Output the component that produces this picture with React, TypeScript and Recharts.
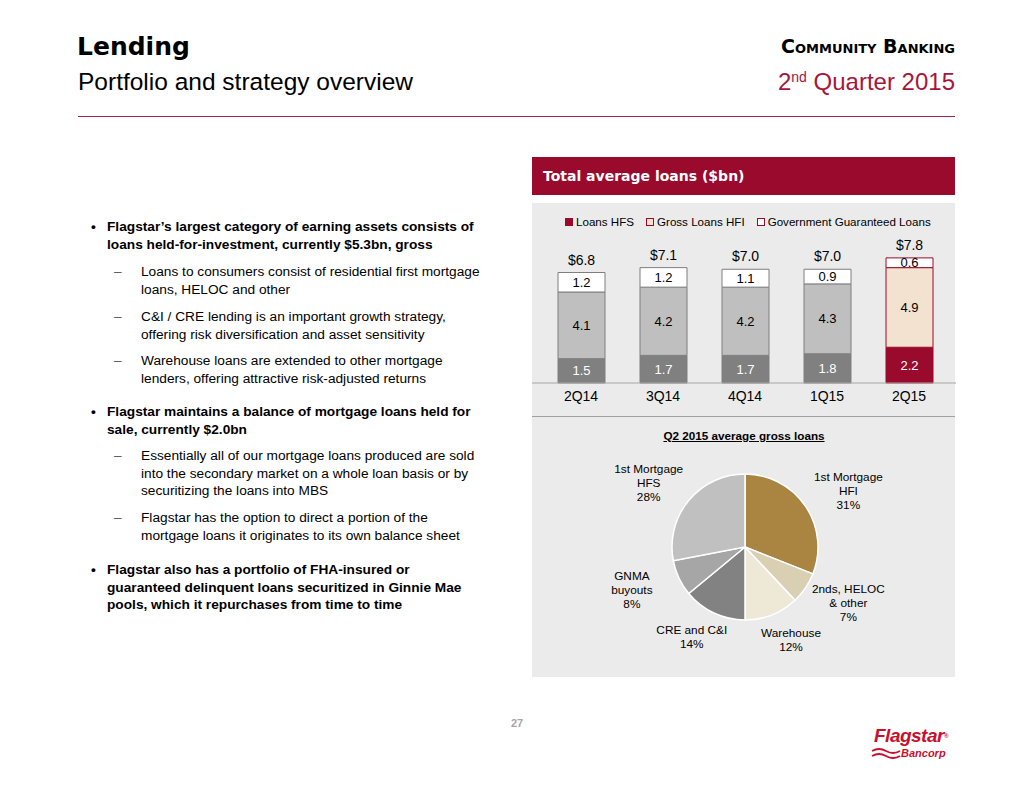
import React from "react";
import { BarChart, Bar, XAxis, YAxis, Cell, LabelList, PieChart, Pie } from "recharts";

const quarters = ["2Q14", "3Q14", "4Q14", "1Q15", "2Q15"];
const loansHfs = [1.5, 1.7, 1.7, 1.8, 2.2];
const grossLoansHfi = [4.1, 4.2, 4.2, 4.3, 4.9];
const govGuaranteed = [1.2, 1.2, 1.1, 0.9, 0.6];
const totals = [6.8, 7.1, 7.0, 7.0, 7.8];

const mixNames = [
  "1st Mortgage\nHFI",
  "2nds, HELOC\n& other",
  "Warehouse",
  "CRE and C&I",
  "GNMA\nbuyouts",
  "1st Mortgage\nHFS",
];
const mixShares = [31, 7, 12, 14, 8, 28];

const RED = "#990a2c";
const FONT = "'Liberation Sans', Arial, sans-serif";
const HEAVY = "'DejaVu Sans', sans-serif";

const barRows = quarters.map((q, i) => ({
  quarter: q,
  hfs: loansHfs[i],
  hfi: grossLoansHfi[i],
  gov: govGuaranteed[i],
  total: totals[i],
}));

const pieRows = mixNames.map((name, i) => ({ name, value: mixShares[i] }));
const pieColors = ["#aa8441", "#d9cfb2", "#eee8d7", "#828282", "#a6a6a6", "#c0c0c0"];

// last quarter is highlighted in red, the rest in greys
const hfsFill = (i: number) => (i === 4 ? RED : "#808080");
const hfiFill = (i: number) => (i === 4 ? "#f3e2cf" : "#bfbfbf");
const edge = (i: number) => (i === 4 ? RED : "#7f7f7f");

const RAD = Math.PI / 180;

const renderPieLabel = (props: any) => {
  const { cx, cy, midAngle, index } = props;
  const x = cx + 125 * Math.cos(-midAngle * RAD);
  const y = cy + 100 * Math.sin(-midAngle * RAD);
  const lines = [...mixNames[index].split("\n"), `${mixShares[index]}%`];
  const startY = y - ((lines.length - 1) * 14) / 2;
  return (
    <text
      x={x}
      y={startY}
      textAnchor='middle'
      dominantBaseline='central'
      fontSize={11.8}
      fontFamily={FONT}
      fill='#000'
    >
      {lines.map((l, k) => (
        <tspan key={k} x={x} y={startY + k * 14}>
          {l}
        </tspan>
      ))}
    </text>
  );
};

const Square = ({ fill }: { fill: string }) => (
  <span
    style={{
      display: "inline-block",
      width: 6,
      height: 6,
      background: fill,
      border: `1px solid ${RED}`,
      marginRight: 3,
    }}
  />
);

const para = (top: number, left: number, bold: boolean): React.CSSProperties => ({
  position: "absolute",
  top,
  left,
  fontFamily: FONT,
  fontSize: 13.7,
  lineHeight: "17.5px",
  fontWeight: bold ? "bold" : "normal",
  color: "#000",
  whiteSpace: "nowrap",
});

const Bullet = ({ top, lines }: { top: number; lines: string[] }) => (
  <>
    <div style={para(top, 91, true)}>•</div>
    <div style={para(top, 107, true)}>
      {lines.map((l, k) => (
        <div key={k}>{l}</div>
      ))}
    </div>
  </>
);

const Sub = ({ top, lines }: { top: number; lines: string[] }) => (
  <>
    <div style={{ ...para(top, 114, false), color: "#555" }}>–</div>
    <div style={para(top, 141, false)}>
      {lines.map((l, k) => (
        <div key={k}>{l}</div>
      ))}
    </div>
  </>
);

export default function App() {
  return (
    <div
      style={{
        position: "absolute",
        left: 0,
        top: 0,
        width: 1034,
        height: 799,
        background: "#fff",
        overflow: "hidden",
      }}
    >
      {/* header */}
      <div
        style={{
          position: "absolute",
          left: 77,
          top: 32,
          fontFamily: HEAVY,
          fontWeight: 900,
          fontSize: 25,
          lineHeight: "30px",
          color: "#000",
        }}
      >
        Lending
      </div>
      <div
        style={{
          position: "absolute",
          left: 78,
          top: 68,
          fontFamily: FONT,
          fontSize: 24.5,
          lineHeight: "28px",
          color: "#000",
        }}
      >
        Portfolio and strategy overview
      </div>
      <div
        style={{
          position: "absolute",
          right: 1034 - 955,
          top: 35,
          fontFamily: HEAVY,
          fontWeight: 900,
          fontSize: 19,
          lineHeight: "22px",
          fontVariant: "small-caps",
          color: "#000",
        }}
      >
        Community Banking
      </div>
      <div
        style={{
          position: "absolute",
          right: 1034 - 955,
          top: 68,
          fontFamily: FONT,
          fontSize: 24,
          lineHeight: "28px",
          color: "#a6163b",
        }}
      >
        2<sup style={{ fontSize: 14, verticalAlign: "top", lineHeight: "18px" }}>nd</sup> Quarter 2015
      </div>
      <div
        style={{ position: "absolute", left: 78, top: 116, width: 877, height: 1, background: "#a3223f" }}
      />

      {/* left text */}
      <Bullet
        top={218}
        lines={[
          "Flagstar’s largest category of earning assets consists of",
          "loans held-for-investment, currently $5.3bn, gross",
        ]}
      />
      <Sub
        top={263}
        lines={[
          "Loans to consumers consist of residential first mortgage",
          "loans, HELOC and other",
        ]}
      />
      <Sub
        top={308}
        lines={[
          "C&I / CRE lending is an important growth strategy,",
          "offering risk diversification and asset sensitivity",
        ]}
      />
      <Sub
        top={352}
        lines={[
          "Warehouse loans are extended to other mortgage",
          "lenders, offering attractive risk-adjusted returns",
        ]}
      />
      <Bullet
        top={403}
        lines={[
          "Flagstar maintains a balance of mortgage loans held for",
          "sale, currently $2.0bn",
        ]}
      />
      <Sub
        top={447}
        lines={[
          "Essentially all of our mortgage loans produced are sold",
          "into the secondary market on a whole loan basis or by",
          "securitizing the loans into MBS",
        ]}
      />
      <Sub
        top={509}
        lines={[
          "Flagstar has the option to direct a portion of the",
          "mortgage loans it originates to its own balance sheet",
        ]}
      />
      <Bullet
        top={561}
        lines={[
          "Flagstar also has a portfolio of FHA-insured or",
          "guaranteed delinquent loans securitized in Ginnie Mae",
          "pools, which it repurchases from time to time",
        ]}
      />

      {/* chart panel */}
      <div
        style={{
          position: "absolute",
          left: 532,
          top: 157,
          width: 423,
          height: 38,
          background: RED,
        }}
      >
        <div
          style={{
            position: "absolute",
            left: 11,
            top: 10,
            fontFamily: HEAVY,
            fontWeight: 900,
            fontSize: 14,
            lineHeight: "18px",
            color: "#fff",
          }}
        >
          Total average loans ($bn)
        </div>
      </div>
      <div
        style={{
          position: "absolute",
          left: 532,
          top: 203,
          width: 423,
          height: 474,
          background: "#ebebeb",
        }}
      />

      {/* legend */}
      <div
        style={{
          position: "absolute",
          left: 565,
          top: 214,
          fontFamily: FONT,
          fontSize: 11.6,
          lineHeight: "15px",
          color: "#000",
          whiteSpace: "nowrap",
        }}
      >
        <Square fill={RED} />
        <span style={{ marginRight: 12 }}>Loans HFS</span>
        <Square fill='#f3e2cf' />
        <span style={{ marginRight: 12 }}>Gross Loans HFI</span>
        <Square fill='#fff' />
        <span>Government Guaranteed Loans</span>
      </div>

      <div style={{ position: "absolute", left: 532, top: 203 }}>
        <BarChart
          width={424}
          height={220}
          data={barRows}
          margin={{ top: 50, right: 0, bottom: 10, left: 0 }}
          barSize={47}
        >
          <XAxis
            dataKey='quarter'
            tickLine={false}
            axisLine={{ stroke: "#a6a6a6" }}
            padding={{ left: 8, right: 6 }}
            tick={{ fill: "#000", fontSize: 14, fontFamily: FONT }}
          />
          <YAxis hide domain={[0, 8]} />
          <Bar dataKey='hfs' stackId='a' isAnimationActive={false}>
            {barRows.map((_, i) => (
              <Cell key={i} fill={hfsFill(i)} stroke={edge(i)} />
            ))}
            <LabelList
              dataKey='hfs'
              position='center'
              fill='#fff'
              fontSize={13}
              fontFamily={FONT}
              formatter={(v: any) => Number(v).toFixed(1)}
            />
          </Bar>
          <Bar dataKey='hfi' stackId='a' isAnimationActive={false}>
            {barRows.map((_, i) => (
              <Cell key={i} fill={hfiFill(i)} stroke={edge(i)} />
            ))}
            <LabelList
              dataKey='hfi'
              position='center'
              fill='#000'
              fontSize={13}
              fontFamily={FONT}
              formatter={(v: any) => Number(v).toFixed(1)}
            />
          </Bar>
          <Bar dataKey='gov' stackId='a' isAnimationActive={false}>
            {barRows.map((_, i) => (
              <Cell key={i} fill='#ffffff' stroke={edge(i)} />
            ))}
            <LabelList
              dataKey='gov'
              position='center'
              fill='#000'
              fontSize={13}
              fontFamily={FONT}
              formatter={(v: any) => Number(v).toFixed(1)}
            />
            <LabelList
              dataKey='total'
              position='top'
              offset={8}
              fill='#000'
              fontSize={14}
              fontFamily={FONT}
              formatter={(v: any) => `$${Number(v).toFixed(1)}`}
            />
          </Bar>
        </BarChart>
      </div>
      <div
        style={{ position: "absolute", left: 532, top: 416, width: 423, height: 1, background: "#a0a0a0" }}
      />

      {/* pie */}
      <div
        style={{
          position: "absolute",
          left: 532,
          top: 428,
          width: 424,
          textAlign: "center",
          fontFamily: FONT,
          fontWeight: "bold",
          fontSize: 11.7,
          lineHeight: "15px",
          textDecoration: "underline",
          color: "#000",
        }}
      >
        Q2 2015 average gross loans
      </div>
      <div style={{ position: "absolute", left: 532, top: 420 }}>
        <PieChart width={424} height={256} margin={{ top: 0, right: 0, bottom: 0, left: 0 }}>
          <Pie
            data={pieRows}
            dataKey='value'
            nameKey='name'
            cx={213}
            cy={127}
            outerRadius={73}
            startAngle={90}
            endAngle={-270}
            stroke='#ffffff'
            strokeWidth={1.5}
            labelLine={false}
            label={renderPieLabel}
            isAnimationActive={false}
          >
            {pieRows.map((_, i) => (
              <Cell key={i} fill={pieColors[i]} />
            ))}
          </Pie>
        </PieChart>
      </div>

      {/* footer */}
      <div
        style={{
          position: "absolute",
          left: 0,
          width: 1034,
          top: 717,
          textAlign: "center",
          fontFamily: FONT,
          fontWeight: "bold",
          fontSize: 11,
          color: "#a6a6a6",
        }}
      >
        27
      </div>
      <div
        style={{
          position: "absolute",
          left: 874,
          top: 726,
          fontFamily: FONT,
          fontWeight: "bold",
          fontStyle: "italic",
          fontSize: 19,
          lineHeight: "20px",
          color: "#c8102e",
          letterSpacing: -0.5,
        }}
      >
        Flagstar<span style={{ fontSize: 6, verticalAlign: "top" }}>®</span>
      </div>
      <div
        style={{
          position: "absolute",
          left: 901,
          top: 747,
          fontFamily: FONT,
          fontWeight: "bold",
          fontStyle: "italic",
          fontSize: 11,
          lineHeight: "12px",
          color: "#c8102e",
        }}
      >
        Bancorp
      </div>
      <svg style={{ position: "absolute", left: 871, top: 747 }} width={30} height={12}>
        <path d='M1 4 Q8 0 15 4 T29 4' stroke='#c8102e' strokeWidth={2} fill='none' />
        <path d='M1 9 Q8 5 15 9 T29 9' stroke='#c8102e' strokeWidth={2} fill='none' />
      </svg>
    </div>
  );
}
